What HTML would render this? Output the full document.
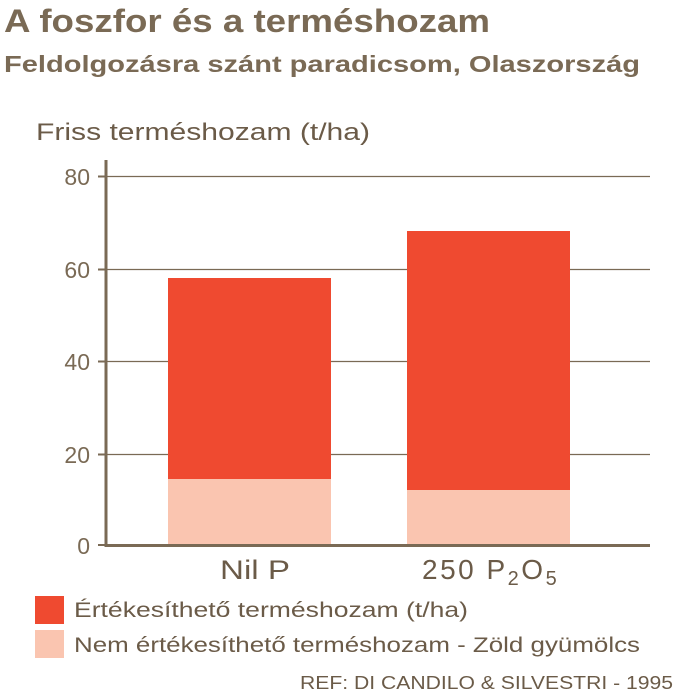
<!DOCTYPE html>
<html><head><style>
body{margin:0;background:#fff;width:683px;height:700px;overflow:hidden}
</style></head><body>
<svg style="position:absolute;left:0;top:0" width="683" height="700" font-family="Liberation Sans, sans-serif">
<text x="4" y="32" font-size="32" font-weight="bold" fill="#7a6a55" textLength="486" lengthAdjust="spacingAndGlyphs">A foszfor és a terméshozam</text>
<text x="4" y="72" font-size="23" font-weight="bold" fill="#7a6a55" textLength="636" lengthAdjust="spacingAndGlyphs">Feldolgozásra szánt paradicsom, Olaszország</text>
<text x="36" y="140" font-size="24" fill="#6b5b48" textLength="334" lengthAdjust="spacingAndGlyphs">Friss terméshozam (t/ha)</text>
<g stroke="#7a6a55" stroke-width="1.2">
<line x1="105" y1="176.5" x2="650" y2="176.5"/>
<line x1="105" y1="269.5" x2="650" y2="269.5"/>
<line x1="105" y1="361.5" x2="650" y2="361.5"/>
<line x1="105" y1="454.5" x2="650" y2="454.5"/>
</g>
<rect x="168" y="278" width="163" height="201" fill="#ef4a30"/>
<rect x="168" y="479" width="163" height="66" fill="#fac5b0"/>
<rect x="407" y="231" width="163" height="259" fill="#ef4a30"/>
<rect x="407" y="490" width="163" height="55" fill="#fac5b0"/>
<g stroke="#7a6a55" stroke-width="2">
<line x1="98" y1="176.5" x2="105" y2="176.5"/>
<line x1="98" y1="269.5" x2="105" y2="269.5"/>
<line x1="98" y1="361.5" x2="105" y2="361.5"/>
<line x1="98" y1="454.5" x2="105" y2="454.5"/>
<line x1="98" y1="545" x2="105" y2="545"/>
</g>
<line x1="106" y1="160" x2="106" y2="547" stroke="#7a6a55" stroke-width="3"/>
<line x1="105" y1="545.5" x2="650" y2="545.5" stroke="#7a6a55" stroke-width="3"/>
<g font-size="23" fill="#7a6a55" text-anchor="end">
<text x="90" y="185">80</text><text x="90" y="278">60</text><text x="90" y="370">40</text><text x="90" y="463">20</text><text x="90" y="554">0</text>
</g>
<g font-size="27" fill="#6b5b48">
<text x="220" y="579" textLength="70" lengthAdjust="spacingAndGlyphs">Nil P</text>
<text x="422" y="579" font-size="28" letter-spacing="2.5">250 P<tspan font-size="20" dy="6">2</tspan><tspan dy="-6">O</tspan><tspan font-size="20" dy="6">5</tspan></text>
</g>
<rect x="35" y="596" width="29" height="28" fill="#ef4a30"/>
<rect x="35" y="630" width="29" height="28" fill="#fac5b0"/>
<g font-size="21" fill="#6b5b48">
<text x="74" y="617" textLength="394" lengthAdjust="spacingAndGlyphs">Értékesíthető terméshozam (t/ha)</text>
<text x="74" y="652" textLength="566" lengthAdjust="spacingAndGlyphs">Nem értékesíthető terméshozam - Zöld gyümölcs</text>
<text x="300" y="689" font-size="18" textLength="373" lengthAdjust="spacingAndGlyphs">REF: DI CANDILO &amp; SILVESTRI - 1995</text>
</g>
</svg>
</body></html>
